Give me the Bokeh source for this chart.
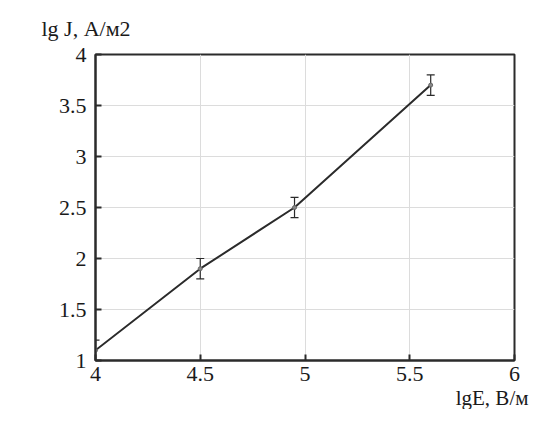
from bokeh.plotting import figure
from bokeh.models import ColumnDataSource, Title, FixedTicker, Range1d
from bokeh.embed import file_html
from bokeh.resources import INLINE

# data
lgE = [4.0, 4.5, 4.95, 5.6]
lgJ = [1.1, 1.9, 2.5, 3.7]
err = [0.1, 0.1, 0.1, 0.1]
x_ticks = [4, 4.5, 5, 5.5, 6]
x_tick_labels = ["4", "4.5", "5", "5.5", "6"]
y_ticks = [1, 1.5, 2, 2.5, 3, 3.5, 4]
y_tick_labels = ["1", "1.5", "2", "2.5", "3", "3.5", "4"]
x_label = "lgE, В/м"
y_label = "lg J, А/м2"

FONT = "Liberation Serif"
DARK = "#2b2b2b"

src = ColumnDataSource(dict(
    x=lgE, y=lgJ,
    upper=[v + e for v, e in zip(lgJ, err)],
    lower=[v - e for v, e in zip(lgJ, err)],
))

p = figure(width=530, height=409, output_backend="svg", toolbar_location=None,
           x_range=Range1d(4, 6), y_range=Range1d(1, 4),
           min_border_left=95, min_border_right=16,
           min_border_top=54, min_border_bottom=30)
p.background_fill_color = "white"
p.border_fill_color = "white"
p.outline_line_color = DARK
p.outline_line_width = 2
p.outline_line_alpha = 1

p.add_layout(Title(text=y_label, align="left", offset=-54, standoff=27,
                   text_font=FONT, text_font_size="22px", text_font_style="normal",
                   text_color="#1a1a1a"), "above")
p.add_layout(Title(text=x_label, align="right", offset=-14, standoff=0,
                   text_font=FONT, text_font_size="21px", text_font_style="normal",
                   text_line_height=0.7, text_color="#1a1a1a"), "below")

p.line("x", "y", source=src, line_color=DARK, line_width=2)
# error bars
p.segment(x0="x", y0="lower", x1="x", y1="upper", source=src,
          line_color=DARK, line_width=1.2)
p.scatter("x", "upper", source=src, marker="dash", size=8,
          line_color=DARK, line_width=1.2)
p.scatter("x", "lower", source=src, marker="dash", size=8,
          line_color=DARK, line_width=1.2)
p.scatter("x", "y", source=src, size=4, fill_color="#888888", line_color="#666666")

p.xaxis.ticker = FixedTicker(ticks=x_ticks)
p.yaxis.ticker = FixedTicker(ticks=y_ticks)
p.xaxis.major_label_overrides = {t: l for t, l in zip(x_ticks, x_tick_labels)}
p.yaxis.major_label_overrides = {t: l for t, l in zip(y_ticks, y_tick_labels)}

for ax in (p.xaxis[0], p.yaxis[0]):
    ax.axis_line_color = DARK
    ax.axis_line_width = 2
    ax.major_tick_in = 6
    ax.major_tick_out = 0
    ax.major_tick_line_color = DARK
    ax.major_tick_line_width = 2
    ax.minor_tick_line_color = None
    ax.major_label_text_font = FONT
    ax.major_label_text_font_size = "22px"
    ax.major_label_text_color = "#1a1a1a"
p.xaxis.major_label_standoff = 6
p.yaxis.major_label_standoff = 9

p.grid.grid_line_color = "#dcdcdc"
p.grid.grid_line_width = 1

open("out.html", "w").write(file_html(p, INLINE))
